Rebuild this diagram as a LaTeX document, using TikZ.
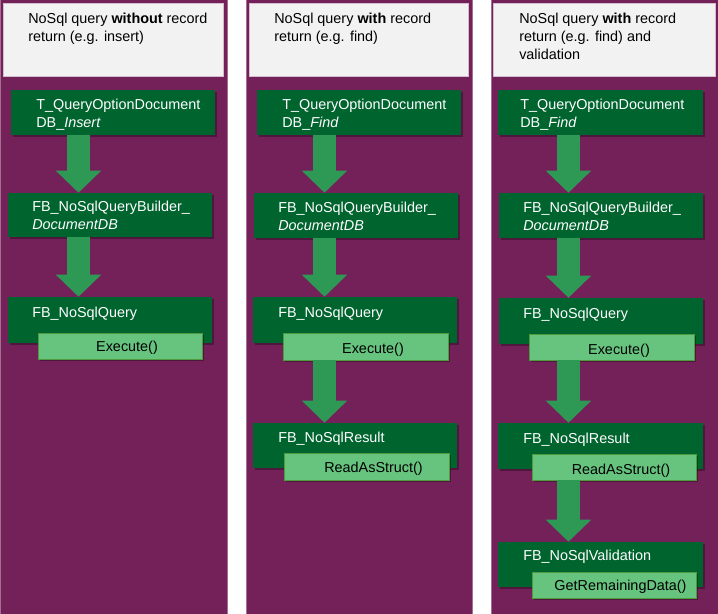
\documentclass[tikz,border=0pt]{standalone}
\usepackage{fontspec}
\setmainfont{Liberation Sans}
\usetikzlibrary{fit,shadows,arrows.meta}
\definecolor{colpurple}{HTML}{74215A}
\definecolor{hdrgray}{HTML}{F2F2F2}
\definecolor{darkgrn}{HTML}{00642F}
\definecolor{arrowgrn}{HTML}{2E9955}
\definecolor{lightgrn}{HTML}{66C47F}
\definecolor{lgborder}{HTML}{4F9A3C}
\begin{document}
\begin{tikzpicture}[x=0.75pt,y=-0.75pt,
  column/.style={fill=colpurple, draw=colpurple!65!white, line width=0.5pt},
  header/.style={fill=hdrgray, draw=colpurple!30!white, line width=0.4pt, inner sep=0pt},
  dbox/.style={fill=darkgrn, inner sep=0pt, drop shadow={shadow xshift=1.5pt, shadow yshift=-1.5pt, fill=black, opacity=0.3}},
  mbox/.style={fill=lightgrn, draw=lgborder, line width=0.6pt, inner sep=0pt, drop shadow={shadow xshift=1.5pt, shadow yshift=-1.5pt, fill=black, opacity=0.3}},
  htext/.style={anchor=base west, align=left, inner sep=0pt, font=\fontsize{10.8}{13.4}\selectfont},
  btext/.style={htext, text=white},
  mtext/.style={anchor=base, inner sep=0pt, font=\fontsize{10.8}{13.4}\selectfont, text=black},
  bigarrow/.style={draw=arrowgrn, line width=17.25pt, -{Triangle[width=33pt,length=16.5pt]}},
]
\useasboundingbox (0,0) rectangle (718,614);
\fill[white] (0,0) rectangle (718,614);
% columns
\path[column] (0,-1) rectangle (227,615);
\path[column] (246,-1) rectangle (472,615);
\path[column] (491,-1) rectangle (719,615);
% headers (base anchor = baseline of the last line)
\node[header, fit={(3,3) (223,76)}] (h1) {};
\node[header, fit={(249,3) (468,76)}] (h2) {};
\node[header, fit={(493,3) (715,76)}] (h3) {};
\node[htext] (h1t) at (28,41.5) {NoSql query \textbf{without} record\\return (e.g. insert)};
\node[htext] (h2t) at (274,41.5) {NoSql query \textbf{with} record\\return (e.g. find)};
\node[htext] (h3t) at (519,59) {NoSql query \textbf{with} record\\return (e.g. find) and\\validation};
% column 1
\node[dbox, fit={(11,90) (215,135)}] (tq1) {};
\node[dbox, fit={(8,193) (212,237)}] (bd1) {};
\node[dbox, fit={(8,297) (212,343)}] (q1) {};
\node[mbox, fit={(38,333) (202,359)}] (ex1) {};
\node[btext] (tq1t) at (36,127.7) {T\_QueryOptionDocument\\DB\_\textit{Insert}};
\node[btext] (bd1t) at (32,229.5) {FB\_NoSqlQueryBuilder\_\\\textit{DocumentDB}};
\node[btext] (q1t) at (32,317.3) {FB\_NoSqlQuery};
\node[mtext] (ex1t) at (127,351) {Execute()};
\coordinate (ax1) at (78.5,0);
% column 2
\node[dbox, fit={(257,90) (461,135)}] (tq2) {};
\node[dbox, fit={(254,193) (458,238)}] (bd2) {};
\node[dbox, fit={(253,297) (457,343)}] (q2) {};
\node[mbox, fit={(283,333) (448,360)}] (ex2) {};
\node[dbox, fit={(253,423) (457,468)}] (rs2) {};
\node[mbox, fit={(284,453) (449,480)}] (ra2) {};
\node[btext] (tq2t) at (282,127.7) {T\_QueryOptionDocument\\DB\_\textit{Find}};
\node[btext] (bd2t) at (278,230) {FB\_NoSqlQueryBuilder\_\\\textit{DocumentDB}};
\node[btext] (q2t) at (278,317) {FB\_NoSqlQuery};
\node[mtext] (ex2t) at (373,353) {Execute()};
\node[btext] (rs2t) at (278,442) {FB\_NoSqlResult};
\node[mtext] (ra2t) at (373.5,472) {ReadAsStruct()};
\coordinate (ax2) at (324.5,0);
% column 3
\node[dbox, fit={(498,90) (703,135)}] (tq3) {};
\node[dbox, fit={(499,193) (703,238)}] (bd3) {};
\node[dbox, fit={(499,298) (703,344)}] (q3) {};
\node[mbox, fit={(529,334) (694,360)}] (ex3) {};
\node[dbox, fit={(498,423) (703,469)}] (rs3) {};
\node[mbox, fit={(532,454) (696,480)}] (ra3) {};
\node[dbox, fit={(498,542) (703,587)}] (va3) {};
\node[mbox, fit={(532,572) (696,598)}] (gr3) {};
\node[btext] (tq3t) at (520,127.7) {T\_QueryOptionDocument\\DB\_\textit{Find}};
\node[btext] (bd3t) at (523,230) {FB\_NoSqlQueryBuilder\_\\\textit{DocumentDB}};
\node[btext] (q3t) at (523,318) {FB\_NoSqlQuery};
\node[mtext] (ex3t) at (619,354) {Execute()};
\node[btext] (rs3t) at (523,443) {FB\_NoSqlResult};
\node[mtext] (ra3t) at (621,474) {ReadAsStruct()};
\node[btext] (va3t) at (523,560) {FB\_NoSqlValidation};
\node[mtext] (gr3t) at (620.5,590) {GetRemainingData()};
\coordinate (ax3) at (568.5,0);
% arrows
\draw[bigarrow] (tq1.south -| ax1) -- (bd1.north -| ax1);
\draw[bigarrow] (bd1.south -| ax1) -- (q1.north -| ax1);
\draw[bigarrow] (tq2.south -| ax2) -- (bd2.north -| ax2);
\draw[bigarrow] (bd2.south -| ax2) -- (q2.north -| ax2);
\draw[bigarrow] (ex2.south -| ax2) -- (rs2.north -| ax2);
\draw[bigarrow] (tq3.south -| ax3) -- (bd3.north -| ax3);
\draw[bigarrow] (bd3.south -| ax3) -- (q3.north -| ax3);
\draw[bigarrow] (ex3.south -| ax3) -- (rs3.north -| ax3);
\draw[bigarrow] (ra3.south -| ax3) -- (va3.north -| ax3);
\end{tikzpicture}
\end{document}
